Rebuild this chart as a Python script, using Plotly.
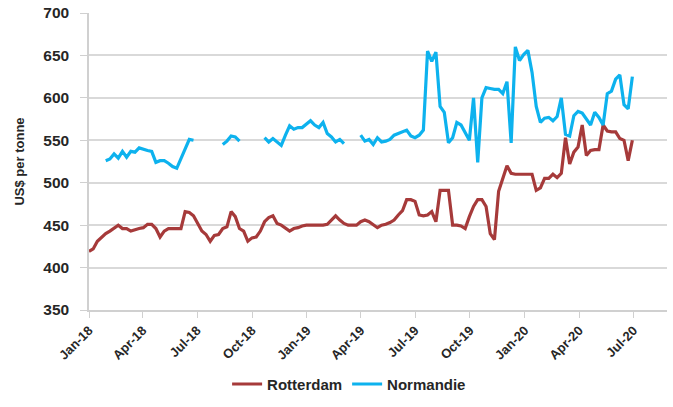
import pandas as pd
import plotly.graph_objects as go

start_date = "2018-01-01"
n_weeks = 131

rotterdam = [
    419, 422, 431, 436, 440, 443, 447, 450, 446, 446,
    443, 445, 446, 447, 451, 451, 446, 436, 443, 446,
    446, 446, 446, 466, 465, 461, 452, 443, 439, 431,
    438, 439, 446, 448, 466, 460, 446, 443, 431, 435,
    436, 443, 454, 459, 461, 452, 450, 447, 443, 446,
    447, 449, 450, 450, 450, 450, 450, 451, 456, 461,
    456, 452, 450, 450, 450, 454, 456, 454, 451, 447,
    450, 451, 453, 456, 462, 467, 480, 480, 478, 462,
    461, 462, 466, 454, 491, 491, 491, 450, 450, 449,
    446, 460, 472, 480, 480, 472, 440, 433, 490, 505,
    520, 511, 510, 510, 510, 510, 510, 491, 494, 505,
    505, 510, 506, 511, 553, 522, 536, 542, 568, 532,
    538, 539, 539, 568, 561, 560, 560, 552, 550, 526,
    550,
]

N = None
normandie = [
    N, N, N, N, 526, 528, 534, 529, 537, 530,
    537, 536, 541, 539, 538, 537, 524, 526, 526, 523,
    519, 517, 529, 540, 551, 550, N, N, N, N,
    N, N, 545, 549, 555, 554, 549, N, N, N,
    N, N, 553, 548, 552, 548, 544, 556, 567, 563,
    565, 565, 569, 573, 568, 565, 571, 558, 554, 548,
    551, 546, N, N, N, 556, 549, 551, 545, 553,
    548, 549, 551, 556, 558, 560, 562, 555, 553, 556,
    562, 655, 643, 654, 590, 583, 547, 553, 571, 568,
    558, 550, 600, 524, 600, 612, 611, 610, 610, 605,
    619, 547, 660, 644, 651, 656, 630, 590, 571, 576,
    577, 573, 578, 600, 557, 555, 579, 584, 582, 575,
    568, 583, 577, 568, 605, 608, 622, 627, 592, 587,
    625,
]

tick_dates = ["2018-01-01", "2018-04-01", "2018-07-01", "2018-10-01",
              "2019-01-01", "2019-04-01", "2019-07-01", "2019-10-01",
              "2020-01-01", "2020-04-01", "2020-07-01"]
tick_labels = ["Jan-18", "Apr-18", "Jul-18", "Oct-18", "Jan-19", "Apr-19",
               "Jul-19", "Oct-19", "Jan-20", "Apr-20", "Jul-20"]
y_ticks = [350, 400, 450, 500, 550, 600, 650, 700]

dates = pd.date_range(start_date, periods=n_weeks, freq="7D")

fig = go.Figure()
fig.add_trace(go.Scatter(x=dates, y=rotterdam, mode="lines", name="Rotterdam",
                         line=dict(color="#A63A3A", width=3.2), connectgaps=False))
fig.add_trace(go.Scatter(x=dates, y=normandie, mode="lines", name="Normandie",
                         line=dict(color="#0DB2EE", width=3.2), connectgaps=False))

font_family = "Liberation Sans, Arial, sans-serif"
txt = "#262626"
fig.update_layout(
    width=673, height=407,
    margin=dict(l=89, r=6, t=13, b=92),
    paper_bgcolor="white", plot_bgcolor="white",
    font=dict(family=font_family, size=13, color=txt),
    showlegend=True,
    legend=dict(orientation="h", x=0.45, xanchor="center", y=-0.25, yanchor="middle",
                font=dict(size=15, color=txt, weight="bold"), traceorder="normal",
                itemwidth=30),
    xaxis=dict(
        type="date", range=["2018-01-01", "2020-08-26"],
        tickvals=tick_dates, ticktext=tick_labels, tickangle=-45,
        showgrid=False, showline=True, linecolor="#d0d0d0", linewidth=1.5,
        ticks="outside", ticklen=6, tickcolor="#d0d0d0",
        tickfont=dict(size=13, color=txt, weight="bold"),
        zeroline=False, automargin=False,
    ),
    yaxis=dict(
        range=[350, 700], tickvals=y_ticks,
        showgrid=True, gridcolor="#d9d9d9", gridwidth=1.5,
        showline=True, linecolor="#d0d0d0", linewidth=1.5,
        ticks="outside", ticklen=7, tickcolor="#d0d0d0",
        ticklabelstandoff=8,
        tickfont=dict(size=15.5, color=txt, weight="bold"),
        title=dict(text="US$ per tonne", font=dict(size=13, color=txt, weight="bold"), standoff=16),
        zeroline=False, automargin=False,
    ),
)

fig.write_html("out.html", config={"displayModeBar": False},
               post_script="document.body.style.margin='0';")
